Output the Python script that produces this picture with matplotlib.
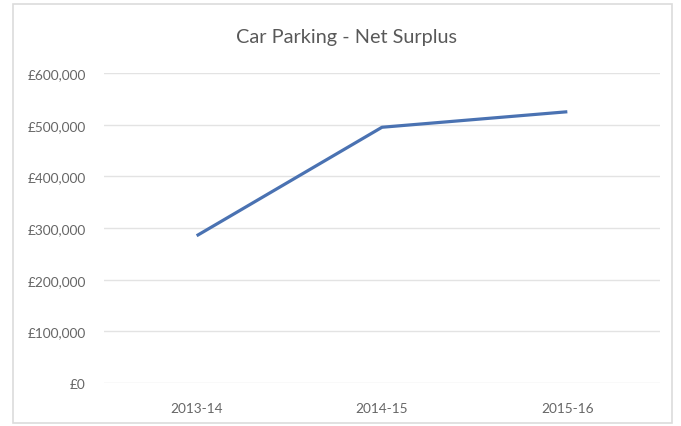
import matplotlib
matplotlib.use("Agg")
import matplotlib.pyplot as plt
from matplotlib.patches import Rectangle
from matplotlib.ticker import FuncFormatter

plt.rcParams['font.family'] = ['Lato', 'DejaVu Sans']

years = ["2013-14", "2014-15", "2015-16"]
net_surplus = [285000, 495000, 525000]
y_ticks = [0, 100000, 200000, 300000, 400000, 500000, 600000]

W, H = 681, 427
fig = plt.figure(figsize=(W / 100, H / 100), dpi=100)
fig.patch.set_facecolor("white")

# chart area border
fig.patches.append(Rectangle((13 / W, 3 / H), (672 - 13) / W, (422 - 3) / H,
                             transform=fig.transFigure, fill=False,
                             edgecolor="#dcdcdc", linewidth=1.2))

left, right = 104 / W, 660 / W
bottom, top = (H - 384) / H, (H - 74) / H
ax = fig.add_axes([left, bottom, right - left, top - bottom])

x = list(range(len(years)))
ax.plot(x, net_surplus, color="#4a72b2", linewidth=2.3, solid_capstyle="butt")

ax.set_xlim(-0.5, len(years) - 0.5)
ax.set_ylim(0, 600000)
ax.set_yticks(y_ticks)
ax.yaxis.set_major_formatter(FuncFormatter(lambda v, p: "£{:,.0f}".format(v)))
ax.set_xticks(x)
ax.set_xticklabels(years)

ax.grid(axis="y", color="#e3e3e3", linewidth=1.0)
ax.set_axisbelow(True)
for s in ax.spines.values():
    s.set_visible(False)
ax.tick_params(axis="both", length=0, colors="#666666", labelsize=9.8)
ax.tick_params(axis="y", pad=13)
ax.tick_params(axis="x", pad=14)

fig.text(347 / W, (H - 38) / H, "Car Parking - Net Surplus",
         ha="center", va="center", fontsize=14.3, color="#595959")

fig.savefig("out.png", dpi=100, facecolor="white")
